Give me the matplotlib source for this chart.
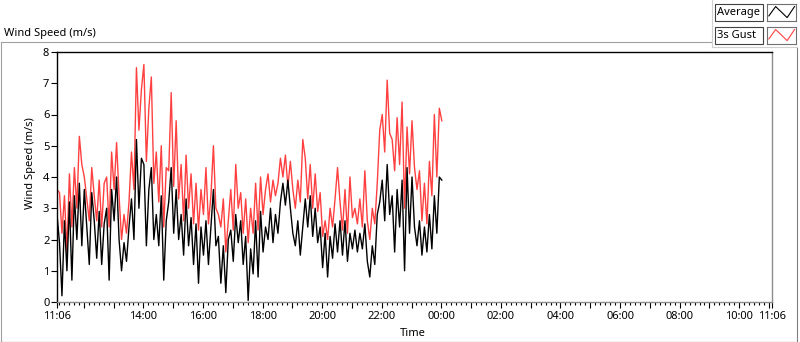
import numpy as np
import matplotlib
matplotlib.use('Agg')
import matplotlib.pyplot as plt
from matplotlib.lines import Line2D
from matplotlib.patches import Rectangle

plt.rcParams['font.family'] = ['Noto Sans', 'DejaVu Sans']

# samples every 5 minutes starting at 11:06
start_hour = 11.1
step_min = 5

avg = [2.8, 1.9, 0.2, 2.6, 1.0, 3.2, 0.7, 3.4, 2.0, 3.8,
       1.8, 3.6, 2.4, 1.2, 3.5, 2.6, 1.4, 2.9, 1.2, 2.5,
       3.0, 0.7, 3.6, 2.6, 4.0, 2.0, 1.0, 1.9, 1.3, 2.4,
       3.3, 2.0, 5.2, 3.0, 4.6, 4.4, 1.8, 3.6, 4.3, 2.0,
       2.8, 1.8, 3.4, 0.7, 2.6, 3.2, 4.3, 2.2, 3.6, 2.0,
       2.8, 1.5, 3.3, 1.8, 2.7, 1.2, 2.5, 0.6, 2.4, 1.5,
       2.6, 1.2, 2.4, 3.6, 1.8, 2.1, 0.6, 1.8, 0.3, 2.0,
       2.3, 1.3, 2.8, 1.9, 2.6, 1.2, 2.1, 0.05, 1.7, 0.9,
       2.6, 0.8, 2.9, 1.6, 2.4, 2.0, 3.0, 1.9, 2.8, 2.2,
       3.2, 3.8, 3.1, 3.9, 3.0, 2.2, 1.8, 2.6, 1.5, 2.4,
       3.3, 2.4, 3.4, 2.1, 3.0, 1.9, 2.4, 1.1, 2.2, 0.8,
       2.1, 1.4, 2.5, 1.6, 2.6, 1.5, 2.6, 1.3, 2.2, 1.7,
       2.3, 1.6, 2.2, 1.7, 2.5, 1.3, 0.8, 1.8, 1.2, 2.8,
       3.2, 3.9, 2.6, 4.4, 2.8, 3.4, 1.6, 3.6, 2.4, 3.9,
       1.0, 4.3, 2.2, 4.0, 2.4, 1.8, 2.6, 1.5, 2.4, 1.6,
       2.8, 1.7, 3.4, 2.2, 4.0, 3.9]

gust = [3.6, 3.5, 2.2, 3.4, 1.6, 4.1, 2.4, 4.3, 3.0, 5.3,
        4.4, 4.0, 3.3, 2.6, 4.3, 3.4, 2.6, 3.9, 2.4, 3.8,
        4.0, 2.4, 4.8, 3.6, 5.1, 3.4, 2.0, 2.8, 2.2, 3.2,
        4.8, 3.6, 7.5, 5.5, 6.8, 7.6, 4.5, 6.2, 7.2, 3.8,
        4.8, 3.2, 5.0, 2.4, 4.3, 4.2, 6.7, 3.7, 5.8, 3.3,
        4.4, 2.6, 4.7, 3.0, 4.1, 2.5, 3.8, 2.3, 3.6, 2.8,
        4.3, 2.5, 3.4, 5.0, 3.0, 2.8, 2.4, 3.3, 1.6, 2.6,
        3.6, 2.3, 4.4, 3.0, 3.5, 2.2, 3.3, 1.9, 3.0, 2.2,
        3.8, 2.3, 4.0, 2.8, 3.6, 4.1, 3.2, 3.9, 3.4, 3.8,
        4.6, 4.0, 4.7, 3.7, 4.5, 3.6, 3.0, 3.9, 3.2, 5.2,
        4.6, 3.3, 4.4, 3.0, 4.1, 2.9, 3.5, 2.1, 2.6, 2.0,
        3.0, 2.4, 3.3, 4.3, 3.2, 2.3, 3.6, 2.2, 4.0, 2.7,
        3.0, 2.5, 3.3, 2.4, 4.2, 2.6, 2.0, 3.0, 2.5, 3.8,
        5.5, 6.0, 4.8, 7.1, 5.4, 5.2, 4.2, 5.9, 4.4, 6.4,
        3.0, 5.6, 4.1, 5.8, 4.3, 3.6, 4.2, 2.6, 3.8, 2.5,
        4.5, 3.4, 6.0, 4.0, 6.2, 5.8]

series_names = ['Average', '3s Gust']
series_colors = ['black', '#ff4040']

label_hours = [11.1] + list(range(14, 35, 2)) + [35.1]

W, H = 800, 342


def fx(x):
    return x / W


def fy(y):
    return 1 - y / H


def hour_label(h):
    if h in (11.1, 35.1):
        return '11:06'
    return f'{int(h) % 24:02d}:00'


t = start_hour + np.arange(len(avg)) * step_min / 60

fig = plt.figure(figsize=(8, 3.42), dpi=100)

# outer panel frame
fig.add_artist(Line2D([fx(0.5), fx(0.5)], [fy(42), fy(341.5)], color='#a0a0a0', lw=0.8))
fig.add_artist(Line2D([fx(0.5), fx(711)], [fy(42), fy(42)], color='#a0a0a0', lw=0.8))
fig.add_artist(Line2D([fx(0.5), fx(797)], [fy(341.5), fy(341.5)], color='#404040', lw=0.8))
fig.add_artist(Line2D([fx(797), fx(797)], [fy(47), fy(341.5)], color='#808080', lw=0.8))
fig.add_artist(Line2D([fx(711.5), fx(711.5)], [fy(0), fy(47)], color='#d0d0d0', lw=0.8))
fig.add_artist(Line2D([fx(711.5), fx(797)], [fy(47), fy(47)], color='#d0d0d0', lw=0.8))

fig.text(fx(4), fy(36), 'Wind Speed (m/s)', fontsize=8, va='baseline', ha='left')

ax = fig.add_axes([fx(57), fy(302), (772 - 57) / W, (302 - 52) / H])
ax.plot(t, gust, color=series_colors[1], lw=1.0)
ax.plot(t, avg, color=series_colors[0], lw=1.0)
ax.set_xlim(11.1, 35.1)
ax.set_ylim(0, 8)

major = [11.1] + list(range(12, 36)) + [35.1]
ax.set_xticks(major)
ax.set_xticklabels([hour_label(h) if h in label_hours else '' for h in major])
ax.set_xticks(np.arange(670, 2101, 10) / 60, minor=True)
ax.set_yticks(range(0, 9))

ax.tick_params(axis='x', which='major', length=4, width=0.8, direction='out',
               labelsize=8, pad=2.5)
ax.tick_params(axis='x', which='minor', length=2.2, width=0.8, direction='out')
ax.tick_params(axis='y', which='major', length=4, width=0.8, direction='out',
               labelsize=8, pad=1.5)

ax.spines['top'].set_color('black')
ax.spines['left'].set_color('black')
ax.spines['bottom'].set_color('#8c8c8c')
ax.spines['right'].set_color('#8c8c8c')
for s in ax.spines.values():
    s.set_linewidth(1.0)

fig.text(fx(31), fy(163), 'Wind Speed (m/s)', rotation=90, fontsize=8,
         ha='center', va='center')
fig.text(fx(413), fy(334), 'Time', fontsize=8, ha='center', va='center')

# legend, LabVIEW style
zig_x = [0.08, 0.31, 0.7, 0.95]
zig_y = [0.3, 0.85, 0.2, 0.85]
for k, (name, col) in enumerate(zip(series_names, series_colors)):
    y0 = 4 + k * 23
    y1 = y0 + 17
    fig.add_artist(Rectangle((fx(714.5), fy(y1)), (763 - 714.5) / W, (y1 - y0) / H,
                             transform=fig.transFigure, facecolor='white',
                             edgecolor='#404040', lw=0.8))
    fig.text(fx(717), fy((y0 + y1) / 2 + 0.5), name, fontsize=8, va='center', ha='left')
    sw = fig.add_axes([fx(766.5), fy(y1), (796 - 766.5) / W, (y1 - y0) / H])
    sw.plot(zig_x, zig_y, color=col, lw=0.8)
    sw.set_xlim(0, 1)
    sw.set_ylim(0, 1)
    sw.set_xticks([])
    sw.set_yticks([])
    for s in sw.spines.values():
        s.set_color('#707070')
        s.set_linewidth(0.8)

fig.savefig('out.png', dpi=100)
